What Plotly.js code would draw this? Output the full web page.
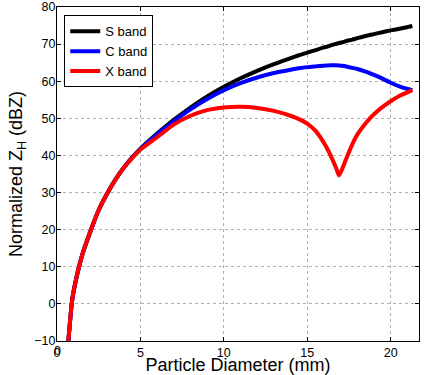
<!DOCTYPE html>
<html>
<head>
<meta charset="utf-8">
<script src="https://cdn.plot.ly/plotly-3.0.1.min.js"></script>
<style>html,body{margin:0;padding:0;background:#fff;}#chart{width:426px;height:375px;}</style>
</head>
<body>
<div id="chart"></div>
<script>
// Particle diameter (mm)
const diameter = [0.68, 0.88, 1.0, 1.5, 2.0, 2.5, 3.0, 3.5, 4.0, 4.5, 5, 6, 7, 8, 9, 10, 11, 12, 13, 14, 14.5, 15, 15.5, 16, 16.25, 16.5, 16.75, 16.9, 17.1, 17.4, 17.7, 18, 18.5, 19, 19.5, 20, 20.6, 21.3];
// Normalized Z_H (dBZ)
const sBand = [-10, 0, 3.5, 13, 19.5, 25.3, 29.7, 33.5, 36.7, 39.4, 41.8, 45.9, 49.6, 52.9, 55.9, 58.5, 60.8, 62.8, 64.6, 66.2, 67.0, 67.7, 68.4, 69.1, 69.4, 69.8, 70.1, 70.3, 70.5, 70.9, 71.2, 71.6, 72.2, 72.7, 73.2, 73.7, 74.2, 74.9];
const cBand = [-10, 0, 3.5, 13, 19.5, 25.3, 29.7, 33.5, 36.7, 39.4, 41.7, 45.7, 49.2, 52.4, 55.2, 57.6, 59.5, 61.0, 62.2, 63.1, 63.5, 63.8, 64.0, 64.2, 64.25, 64.3, 64.3, 64.25, 64.15, 63.9, 63.6, 63.3, 62.6, 61.7, 60.7, 59.6, 58.5, 57.6];
const xBand = [-10, 0, 3.5, 13, 19.5, 25.3, 29.7, 33.5, 36.7, 39.3, 41.6, 44.9, 48.3, 50.7, 52.2, 52.9, 53.1, 52.8, 52.0, 50.7, 49.8, 48.6, 46.6, 43.4, 41.4, 39.0, 36.4, 34.6, 36.4, 39.8, 43.0, 45.6, 48.7, 51.1, 53.0, 54.6, 56.2, 57.6];
const seriesNames = ["S band", "C band", "X band"];
const seriesColors = ["#000000", "#0000ff", "#ff0000"];
const xTicks = [0, 5, 10, 15, 20];
const yTicks = [-10, 0, 10, 20, 30, 40, 50, 60, 70, 80];

const traces = [sBand, cBand, xBand].map((ys, i) => ({
  x: diameter, y: ys, type: 'scatter', mode: 'lines', name: seriesNames[i],
  line: {color: seriesColors[i], width: 4, shape: 'spline', smoothing: 0.5}
}));

const fam = 'Arial, Liberation Sans, sans-serif';
const axisCommon = {
  showline: true, mirror: 'ticks', linecolor: '#000', linewidth: 1,
  ticks: 'inside', ticklen: 4, tickcolor: '#000',
  showgrid: true, gridcolor: '#b0b0b0', griddash: 'dot', gridwidth: 1,
  zeroline: false, ticklabeloverflow: 'allow',
  tickfont: {family: fam, size: 12.5, color: '#000'}
};

const layout = {
  width: 426, height: 375,
  margin: {l: 57, r: 7, t: 7, b: 34},
  paper_bgcolor: '#fff', plot_bgcolor: '#fff',
  font: {family: fam, color: '#000'},
  showlegend: true,
  legend: {x: 0.02, y: 0.975, xanchor: 'left', yanchor: 'top', bgcolor: '#fff', bordercolor: '#000', borderwidth: 1,
           font: {size: 13, family: fam}, tracegroupgap: 0, itemwidth: 30},
  xaxis: Object.assign({}, axisCommon, {range: [0, 21.7], tickvals: xTicks, ticktext: xTicks.map(String),
    title: {text: 'Particle Diameter (mm)', font: {size: 18}, standoff: 0}}),
  yaxis: Object.assign({}, axisCommon, {range: [-10, 80], tickvals: yTicks, ticktext: yTicks.map(v => v < 0 ? '\u2212' + Math.abs(v) : String(v)),
    ticklabelstandoff: -2,
    title: {text: 'Normalized Z<sub>H</sub> (dBZ)', font: {size: 18}, standoff: 6}}),
  // the x label at the axis origin (Plotly hides this one where the axes meet)
  annotations: [{x: xTicks[0], xref: 'x', y: 0, yref: 'paper', yanchor: 'top', yshift: -1,
                 text: String(xTicks[0]), showarrow: false, font: {family: fam, size: 12.5, color: '#000'}}]
};

Plotly.newPlot('chart', traces, layout, {staticPlot: true, displayModeBar: false});
</script>
</body>
</html>
